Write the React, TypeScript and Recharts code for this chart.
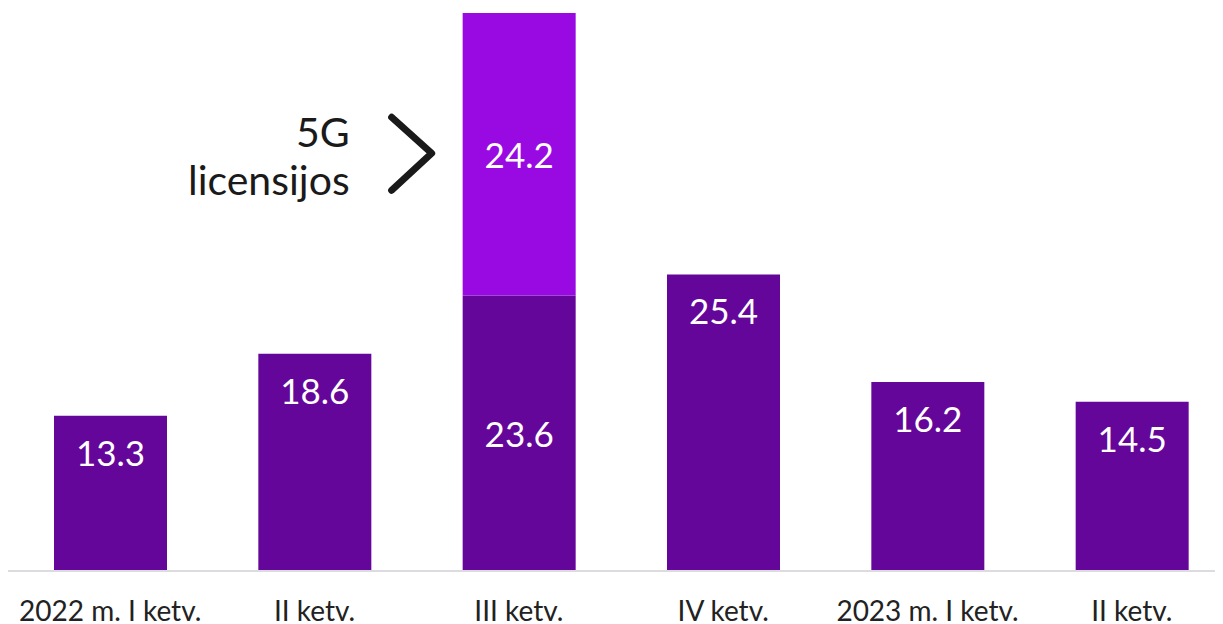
import React from "react";
import { BarChart, Bar, XAxis, YAxis, LabelList } from "recharts";

const categories = ["2022 m. I ketv.", "II ketv.", "III ketv.", "IV ketv.", "2023 m. I ketv.", "II ketv."];
const baseValues = [13.3, 18.6, 23.6, 25.4, 16.2, 14.5];
const licenseValues: (number | null)[] = [null, null, 24.2, null, null, null];
const annotationLines = ["5G", "licensijos"];

const data = categories.map((c, i) => ({ name: c, base: baseValues[i], license: licenseValues[i] }));

const FONT = "Lato, 'Noto Sans', sans-serif";
const BASE_COLOR = "#65069A";
const LICENSE_COLOR = "#990AE3";

const BaseLabel = (props: any) => {
  const { x, y, width, height, value, index } = props;
  if (value == null) return null;
  const cy = index === 2 ? y + height / 2 : y + 36;
  return (
    <text x={x + width / 2} y={cy} fill="#fff" fontSize={35} fontFamily={FONT} textAnchor="middle" dominantBaseline="central">
      {value}
    </text>
  );
};

const LicenseLabel = (props: any) => {
  const { x, y, width, height, value } = props;
  if (value == null) return null;
  const cy = y + height / 2;
  return (
    <g>
      <text x={x + width / 2} y={cy} fill="#fff" fontSize={35} fontFamily={FONT} textAnchor="middle" dominantBaseline="central">
        {value}
      </text>
      <text x={x - 113} y={cy - 7} fill="#1a1a1a" fontSize={41} fontFamily={FONT} textAnchor="end">
        {annotationLines[0]}
      </text>
      <text x={x - 113} y={cy + 41} fill="#1a1a1a" fontSize={41} fontFamily={FONT} textAnchor="end">
        {annotationLines[1]}
      </text>
      <polyline
        points={`${x - 71},${cy - 37} ${x - 31},${cy - 1} ${x - 71},${cy + 36}`}
        fill="none"
        stroke="#1a1a1a"
        strokeWidth={7}
        strokeLinecap="round"
        strokeLinejoin="round"
      />
    </g>
  );
};

const Tick = (props: any) => {
  const { x, y, payload } = props;
  return (
    <text x={x} y={y + 31} fill="#222" fontSize={28} fontFamily={FONT} textAnchor="middle" dominantBaseline="central">
      {payload.value}
    </text>
  );
};

export default function App() {
  return (
    <div style={{ width: 1215, height: 616, overflow: "hidden" }}>
      <BarChart width={1226} height={616} data={data} margin={{ top: 5, right: 0, bottom: 0, left: 0 }}>
        <YAxis hide domain={[0, 47.8]} allowDataOverflow />
        <XAxis
          dataKey="name"
          height={53}
          axisLine={{ stroke: "#dcdce0", strokeWidth: 2 }}
          tickLine={false}
          tick={<Tick />}
          interval={0}
        />
        <Bar dataKey="base" stackId="a" fill={BASE_COLOR} barSize={113} isAnimationActive={false}>
          <LabelList dataKey="base" content={<BaseLabel />} />
        </Bar>
        <Bar dataKey="license" stackId="a" fill={LICENSE_COLOR} barSize={113} isAnimationActive={false}>
          <LabelList dataKey="license" content={<LicenseLabel />} />
        </Bar>
      </BarChart>
    </div>
  );
}
